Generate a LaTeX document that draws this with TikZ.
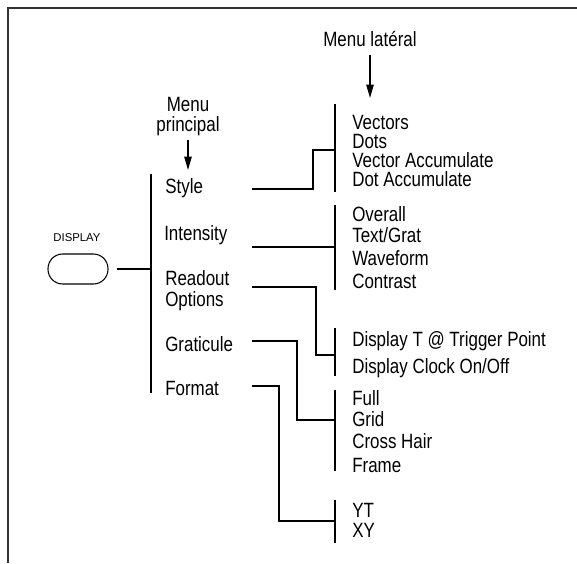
\documentclass[tikz,border=0pt]{standalone}
\usepackage{fontspec}
\setmainfont{Liberation Sans}[FakeStretch=0.82]
\newfontfamily\plainsans{Liberation Sans}
\usetikzlibrary{arrows.meta}
\tikzset{
  txt/.style={inner sep=0pt, font=\fontsize{15.5}{18}\selectfont, anchor=base west},
  ctxt/.style={inner sep=0pt, font=\fontsize{15.5}{18}\selectfont, anchor=base},
  conn/.style={line width=2.2pt},
  bar/.style={line width=2.2pt},
  pointer/.style={line width=1.2pt, -{Triangle[length=10pt,width=5.5pt]}},
  frameline/.style={line width=1.5pt, draw=black!80},
  btn/.style={draw, line width=0.8pt, rounded corners=11pt, minimum width=45pt, minimum height=22.5pt, inner sep=0pt}
}
\begin{document}
\begin{tikzpicture}[x=0.75pt,y=-0.75pt]
\useasboundingbox (0,0) rectangle (577,563);
% frame
\draw[frameline] (8,563) -- (8,8) -- (577,8);

% headers
\node[ctxt] (hlat) at (370,47) {Menu latéral};
\coordinate (alat1) at (370,55);
\coordinate (alat2) at (370,98);
\draw[pointer] (alat1) -- (alat2);
\node[ctxt] (hp1) at (188,112) {Menu};
\node[ctxt] (hp2) at (188,132) {principal};
\coordinate (ap1) at (188,140);
\coordinate (ap2) at (188,170);
\draw[pointer] (ap1) -- (ap2);

% button
\node[inner sep=0pt, font=\plainsans\fontsize{8.5}{10}\selectfont, anchor=base] (dlab) at (77,241) {DISPLAY};
\node[btn] (button) at (78,269) {};
\coordinate (mtop) at (151,174);
\coordinate (mbot) at (151,393);
\draw[bar] (mtop) -- (mbot);
\coordinate (bstart) at ([xshift=6pt]button.east);
\draw[conn] (bstart) -- (bstart -| mtop);

% main menu items
\node[txt] (style) at (165,193) {Style};
\node[txt] (inten) at (164,240) {Intensity};
\node[txt] (read1) at (165,285) {Readout};
\node[txt] (read2) at (165,306) {Options};
\node[txt] (grat) at (165,351) {Graticule};
\node[txt] (fmt) at (165,395) {Format};

% side menus
\draw[bar] (335,104) coordinate (sbt) -- (335,192) coordinate (sbb);
\node[txt] (s1) at (352,129) {Vectors};
\node[txt] (s2) at (352,148) {Dots};
\node[txt] (s3) at (352,167) {Vector Accumulate};
\node[txt] (s4) at (352,186) {Dot Accumulate};

\draw[bar] (335,205) coordinate (ibt) -- (335,290) coordinate (ibb);
\node[txt] (i1) at (352,221) {Overall};
\node[txt] (i2) at (352,242) {Text/Grat};
\node[txt] (i3) at (352,265) {Waveform};
\node[txt] (i4) at (352,288) {Contrast};

\draw[bar] (335,328) coordinate (rbt) -- (335,376) coordinate (rbb);
\node[txt] (r1) at (352,346) {Display T @ Trigger Point};
\node[txt] (r2) at (352,373) {Display Clock On/Off};

\draw[bar] (335,390) coordinate (gbt) -- (335,471) coordinate (gbb);
\node[txt] (g1) at (352,405) {Full};
\node[txt] (g2) at (352,426) {Grid};
\node[txt] (g3) at (352,448) {Cross Hair};
\node[txt] (g4) at (352,472) {Frame};

\draw[bar] (335,500) coordinate (fbt) -- (335,543) coordinate (fbb);
\node[txt] (f1) at (352,517) {YT};
\node[txt] (f2) at (352,537) {XY};

% connectors
\coordinate (sj) at (335,150);
\coordinate (ij) at (335,247);
\coordinate (rj) at (335,355);
\coordinate (gj) at (335,420);
\coordinate (fj) at (335,521);
\draw[conn] (252,189) -- (313,189) |- (sj);
\draw[conn] (252,247) -- (ij);
\draw[conn] (252,287) -- (316,287) |- (rj);
\draw[conn] (252,341) -- (297,341) |- (gj);
\draw[conn] (252,386) -- (279,386) |- (fj);
\end{tikzpicture}
\end{document}
